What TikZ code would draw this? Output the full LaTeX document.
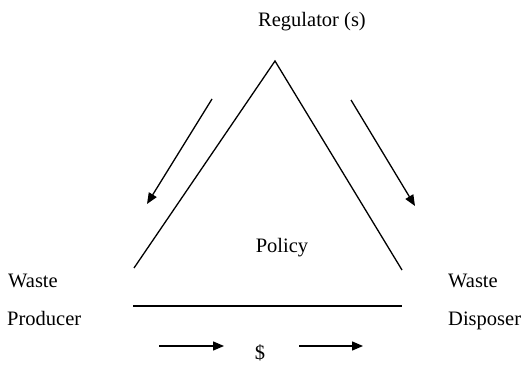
\documentclass[tikz,border=0pt]{standalone}
\usepackage{fontspec}
\setmainfont{Liberation Serif}
\usetikzlibrary{arrows.meta}
\begin{document}
\begin{tikzpicture}[x=1pt,y=-1pt,
  lbl/.style={inner sep=0pt,font=\fontsize{20.5}{24}\selectfont},
  edge/.style={line width=1.3pt},
  flow/.style={line width=1.3pt,-{Triangle[length=11pt,width=9pt]}}]
\useasboundingbox (0,0) rectangle (522,366);
% labels
\node[lbl,anchor=base] (reg) at (312,27) {Regulator (s)};
\node[lbl,anchor=base] (pol) at (282,252) {Policy};
\node[lbl,anchor=base west] (wp1) at (8,287) {Waste};
\node[lbl,anchor=base west] (wp2) at (7,325) {Producer};
\node[lbl,anchor=base west] (wd1) at (448,287) {Waste};
\node[lbl,anchor=base west] (wd2) at (448,325) {Disposer};
\node[lbl,anchor=base] (money) at (260,359) {\$};
% triangle
\coordinate (apex) at (275,61);
\coordinate (bl) at (134,268);
\coordinate (br) at (402,270);
\coordinate (hl) at (133,306);
\coordinate (hr) at (402,306);
\draw[edge] (bl) -- (apex) -- (br);
\draw[edge] (hl) -- (hr);
% arrows
\coordinate (la1) at (212,99);
\coordinate (la2) at (147,204);
\coordinate (ra1) at (351,100);
\coordinate (ra2) at (415,206);
\draw[flow] (la1) -- (la2);
\draw[flow] (ra1) -- (ra2);
\coordinate (ba1) at (159,346);
\coordinate (ba2) at (224,346);
\coordinate (bb1) at (299,346);
\coordinate (bb2) at (363,346);
\draw[flow] (ba1) -- (ba2);
\draw[flow] (bb1) -- (bb2);
\end{tikzpicture}
\end{document}
